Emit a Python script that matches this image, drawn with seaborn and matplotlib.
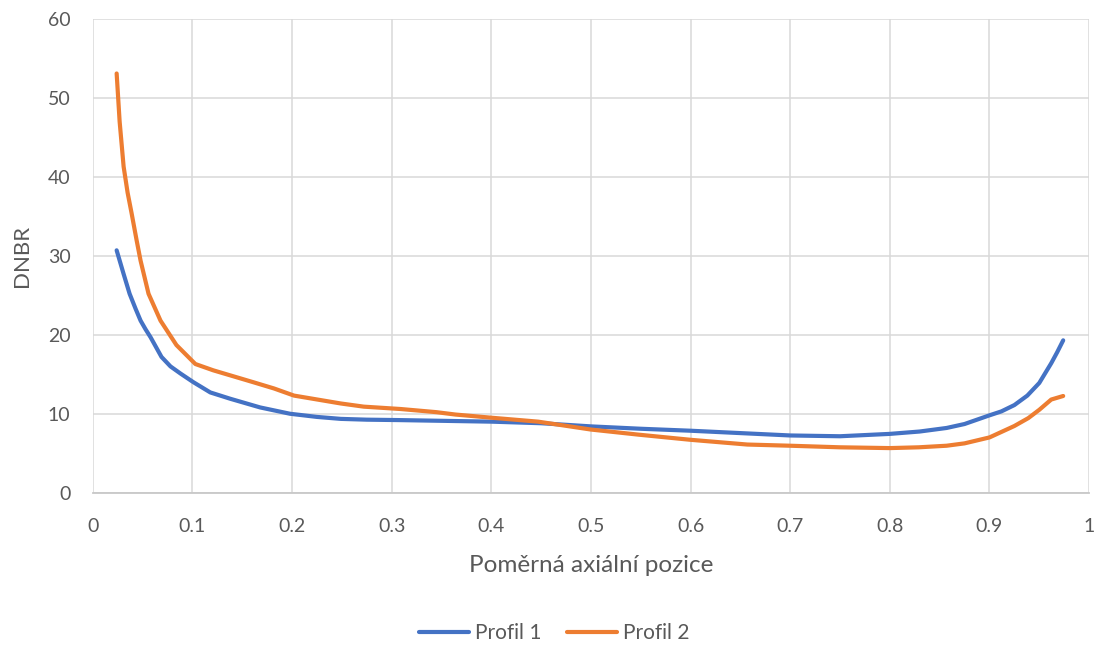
import numpy as np
import pandas as pd
import matplotlib
matplotlib.use("Agg")
import matplotlib.pyplot as plt
import seaborn as sns

# Profil 1 (modrá)
x_p1 = [0.024, 0.031, 0.037, 0.043, 0.048, 0.053, 0.058, 0.069, 0.078, 0.088,
        0.101, 0.118, 0.138, 0.168, 0.198, 0.225, 0.249, 0.275, 0.306, 0.40,
        0.45, 0.50, 0.55, 0.60, 0.65, 0.70, 0.75, 0.80, 0.83, 0.857,
        0.875, 0.90, 0.912, 0.925, 0.938, 0.95, 0.962, 0.968, 0.974]
y_p1 = [30.7, 27.7, 25.2, 23.3, 21.8, 20.7, 19.7, 17.2, 16.0, 15.1,
        14.0, 12.7, 11.9, 10.8, 10.0, 9.6, 9.35, 9.25, 9.2, 9.0,
        8.8, 8.4, 8.1, 7.85, 7.55, 7.25, 7.15, 7.45, 7.75, 8.2,
        8.7, 9.8, 10.3, 11.1, 12.3, 13.9, 16.4, 17.8, 19.3]

# Profil 2 (oranžová)
x_p2 = [0.024, 0.027, 0.031, 0.035, 0.039, 0.044, 0.048, 0.056, 0.068, 0.084,
        0.103, 0.121, 0.161, 0.182, 0.202, 0.249, 0.272, 0.309, 0.345, 0.364,
        0.40, 0.447, 0.50, 0.548, 0.60, 0.657, 0.70, 0.75, 0.80, 0.829,
        0.857, 0.875, 0.90, 0.925, 0.939, 0.95, 0.962, 0.974]
y_p2 = [53.1, 47.0, 41.3, 38.0, 35.4, 32.0, 29.4, 25.2, 21.8, 18.7,
        16.3, 15.5, 14.0, 13.2, 12.3, 11.3, 10.9, 10.6, 10.2, 9.9,
        9.5, 9.0, 8.0, 7.35, 6.7, 6.1, 5.95, 5.75, 5.65, 5.75,
        5.95, 6.25, 7.0, 8.45, 9.45, 10.5, 11.8, 12.25]

series_names = ["Profil 1", "Profil 2"]
x_ticks = [0, 0.1, 0.2, 0.3, 0.4, 0.5, 0.6, 0.7, 0.8, 0.9, 1]
x_tick_labels = ["0", "0.1", "0.2", "0.3", "0.4", "0.5", "0.6", "0.7", "0.8", "0.9", "1"]
y_ticks = [0, 10, 20, 30, 40, 50, 60]

df = pd.concat([
    pd.DataFrame({"x": x_p1, "y": y_p1, "profil": series_names[0]}),
    pd.DataFrame({"x": x_p2, "y": y_p2, "profil": series_names[1]}),
])

sns.set_theme(style="white")
plt.rcParams["font.family"] = ["Lato", "DejaVu Sans"]

text_col = "#595959"
grid_col = "#D9D9D9"

fig = plt.figure(figsize=(11.04, 6.46), dpi=100)
ax = fig.add_axes([0.084, 0.2373, 0.9025, 0.7333])

sns.lineplot(data=df, x="x", y="y", hue="profil", sort=False, ax=ax,
             palette={"Profil 1": "#4472C4", "Profil 2": "#ED7D31"},
             linewidth=3, legend=True,
             solid_joinstyle="round", solid_capstyle="round")

ax.set_xlim(0, 1)
ax.set_ylim(0, 60)
ax.set_xticks(x_ticks)
ax.set_xticklabels(x_tick_labels)
ax.set_yticks(y_ticks)
ax.grid(True, color=grid_col, linewidth=1.1)
ax.set_axisbelow(True)
for side in ["top", "right", "left"]:
    ax.spines[side].set_visible(False)
ax.spines["bottom"].set_color("#C8C8C8")
ax.spines["bottom"].set_linewidth(1.3)
ax.tick_params(axis="both", length=0, labelsize=14, labelcolor=text_col)
ax.tick_params(axis="x", pad=18)
ax.tick_params(axis="y", pad=16)

ax.set_xlabel("Poměrná axiální pozice", fontsize=17.5, color=text_col)
ax.xaxis.label.set_va("center")
ax.xaxis.set_label_coords(0.5, -0.153)
ax.set_ylabel("DNBR", fontsize=16, color=text_col)
ax.yaxis.label.set_va("center")
ax.yaxis.set_label_coords(-0.071, 0.5)

handles, labels = ax.get_legend_handles_labels()
ax.get_legend().remove()
fig.legend(handles, labels, loc="center", bbox_to_anchor=(0.502, 0.02), ncol=2,
           frameon=False, fontsize=15, handlelength=2.4, handletextpad=0.3,
           columnspacing=1.2, labelcolor=text_col)

fig.savefig("out.png", dpi=100)
